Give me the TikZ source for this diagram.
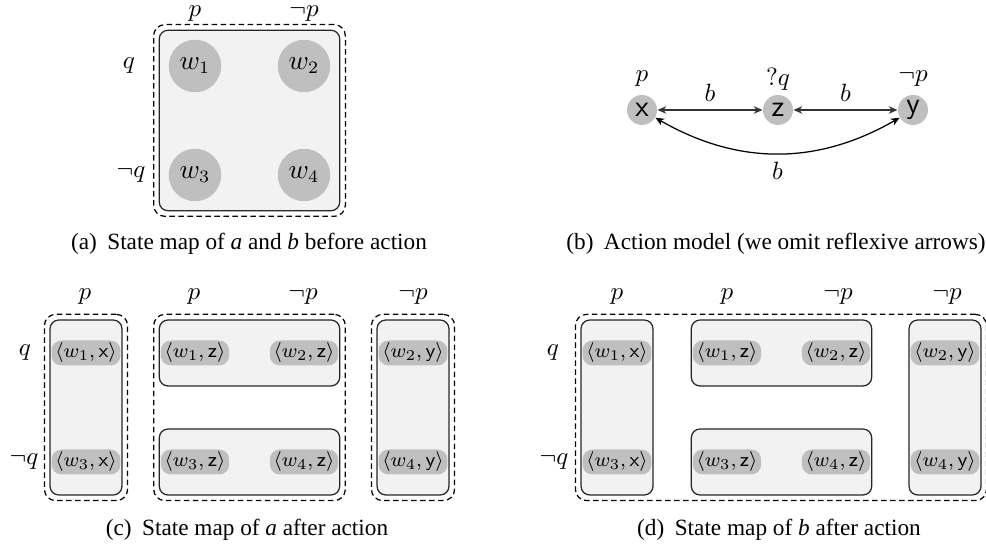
\documentclass[tikz,border=0pt]{standalone}
\usepackage{fontspec}
\setmainfont{Liberation Serif}
\usetikzlibrary{fit,backgrounds,arrows.meta}

\tikzset{
  world/.style={circle, fill=black!25, minimum size=21pt, inner sep=0pt,
    font=\fontsize{10.6}{12}\selectfont},
  event/.style={circle, fill=black!25, minimum size=12pt, inner sep=0pt, font=\large\sffamily},
  pair/.style={rectangle, rounded corners=4pt, fill=black!25, minimum height=10pt,
    inner xsep=1.5pt, inner ysep=0pt, font=\footnotesize},
  cell/.style={draw=black!85, fill=black!5, line width=0.5pt, rounded corners=3.5pt,
    inner xsep=0.4pt, inner ysep=8pt},
  class/.style={draw, line width=0.5pt, dash pattern=on 2.2pt off 1.4pt,
    rounded corners=4.5pt, inner sep=2pt},
  link/.style={<->, line width=0.5pt, draw=black!80},
  caption/.style={font=\fontsize{9.3}{11}\selectfont}
}

\begin{document}
\begin{tikzpicture}[x=0.4pt, y=-0.4pt, >={Stealth[length=3.5pt, width=3pt]}]
  \useasboundingbox (0,0) rectangle (986,550);

  % (a) state map before the action
  \node[world] (w1) at (195,66) {$w_1$};
  \node[world] (w2) at (304,66) {$w_2$};
  \node[world] (w3) at (195,175) {$w_3$};
  \node[world] (w4) at (304,175) {$w_4$};
  \node[inner sep=1pt] (ap) at (195,14) {$p$};
  \node[inner sep=1pt] (anp) at (304,14) {$\neg p$};
  \node (aq) at (129,66) {$q$};
  \node (anq) at (131,175) {$\neg q$};
  \begin{scope}[on background layer]
    \node[cell, fit=(w1)(w4), inner sep=3.6pt] (acell) {};
    \node[class, fit=(acell)] (aclass) {};
  \end{scope}
  \node[caption] (capa) at (249,244) {(a)\hspace{0.45em}State map of \textit{a} and \textit{b} before action};

  % (b) action model
  \node[event] (x) at (642,110) {x};
  \node[event] (z) at (778,110) {z};
  \node[event] (y) at (913,110) {y};
  \node (xp) at (642,79) {$p$};
  \node (zq) at (778,79) {$?q$};
  \node (ynp) at (913,79) {$\neg p$};
  \draw[link] (x) -- node[above] (bxz) {$b$} (z);
  \draw[link] (z) -- node[above] (bzy) {$b$} (y);
  \draw[link, draw=black] (x) to[bend right=30] node[below] (bxy) {$b$} (y);
  \node[caption] (capb) at (776,244) {(b)\hspace{0.45em}Action model (we omit reflexive arrows)};

  % (c) state map of a after the action
  \node[pair] (c1x) at (86,353) {$\langle w_1,\textsf{x}\rangle$};
  \node[pair] (c3x) at (86,462) {$\langle w_3,\textsf{x}\rangle$};
  \node[pair] (c1z) at (195,353) {$\langle w_1,\textsf{z}\rangle$};
  \node[pair] (c2z) at (304,353) {$\langle w_2,\textsf{z}\rangle$};
  \node[pair] (c3z) at (195,462) {$\langle w_3,\textsf{z}\rangle$};
  \node[pair] (c4z) at (304,462) {$\langle w_4,\textsf{z}\rangle$};
  \node[pair] (c2y) at (413,353) {$\langle w_2,\textsf{y}\rangle$};
  \node[pair] (c4y) at (413,462) {$\langle w_4,\textsf{y}\rangle$};
  \node (cp1) at (85,297) {$p$};
  \node (cp2) at (194,297) {$p$};
  \node (cnp1) at (303,297) {$\neg p$};
  \node (cnp2) at (413,297) {$\neg p$};
  \node (cq) at (25,353) {$q$};
  \node (cnq) at (24,462) {$\neg q$};
  \begin{scope}[on background layer]
    \node[cell, fit=(c1x)(c3x)] (cleft) {};
    \node[cell, fit=(c1z)(c2z)] (ctop) {};
    \node[cell, fit=(c3z)(c4z)] (cbot) {};
    \node[cell, fit=(c2y)(c4y)] (cright) {};
    \node[class, fit=(cleft)] (cclass1) {};
    \node[class, fit=(ctop)(cbot)] (cclass2) {};
    \node[class, fit=(cright)] (cclass3) {};
  \end{scope}
  \node[caption] (capc) at (247,530) {(c)\hspace{0.45em}State map of \textit{a} after action};

  % (d) state map of b after the action
  \node[pair] (d1x) at (617,353) {$\langle w_1,\textsf{x}\rangle$};
  \node[pair] (d3x) at (617,462) {$\langle w_3,\textsf{x}\rangle$};
  \node[pair] (d1z) at (727,353) {$\langle w_1,\textsf{z}\rangle$};
  \node[pair] (d2z) at (836,353) {$\langle w_2,\textsf{z}\rangle$};
  \node[pair] (d3z) at (727,462) {$\langle w_3,\textsf{z}\rangle$};
  \node[pair] (d4z) at (836,462) {$\langle w_4,\textsf{z}\rangle$};
  \node[pair] (d2y) at (945,353) {$\langle w_2,\textsf{y}\rangle$};
  \node[pair] (d4y) at (945,462) {$\langle w_4,\textsf{y}\rangle$};
  \node (dp1) at (617,297) {$p$};
  \node (dp2) at (727,297) {$p$};
  \node (dnp1) at (838,297) {$\neg p$};
  \node (dnp2) at (947,297) {$\neg p$};
  \node (dq) at (553,353) {$q$};
  \node (dnq) at (554,462) {$\neg q$};
  \begin{scope}[on background layer]
    \node[cell, fit=(d1x)(d3x)] (dleft) {};
    \node[cell, fit=(d1z)(d2z)] (dtop) {};
    \node[cell, fit=(d3z)(d4z)] (dbot) {};
    \node[cell, fit=(d2y)(d4y)] (dright) {};
    \node[class, fit=(dleft)(dright)] (dclass) {};
  \end{scope}
  \node[caption] (capd) at (779,530) {(d)\hspace{0.45em}State map of \textit{b} after action};
\end{tikzpicture}
\end{document}
